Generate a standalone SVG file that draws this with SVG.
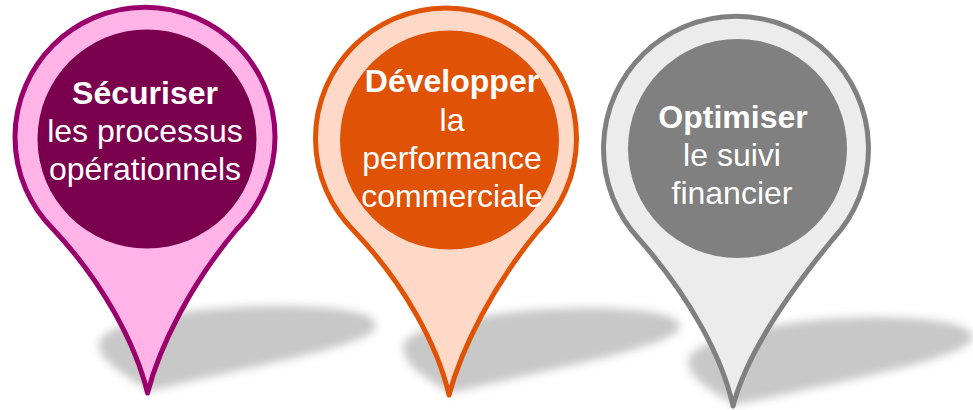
<svg xmlns="http://www.w3.org/2000/svg" width="973" height="410" viewBox="0 0 973 410">
<defs>
<filter id="blur" x="-10%" y="-30%" width="120%" height="160%"><feGaussianBlur stdDeviation="4"/></filter>
</defs>
<style>
.shadow{fill:#c8c8c8;filter:url(#blur)}
.pin{stroke-width:5;stroke-linejoin:round}
text{font-family:"Liberation Sans",Arial,sans-serif;font-size:32px;fill:#fff;text-anchor:middle}
.b{font-weight:bold}
</style>
<rect width="973" height="410" fill="#fff"/>
<g id="shadows">
<path class="shadow" d="M99,345C98,322 190,306 280,306C335,306 376,312 376,325C376,345 270,362 150,391C125,375 100,362 99,345Z"/>
<path class="shadow" d="M403,347C402,326 500,308 590,308C640,308 680,314 680,326C680,345 570,365 450,393C425,378 404,365 403,347Z"/>
<path class="shadow" d="M688,362C687,340 780,318 870,317C925,317 973,323 973,337C973,356 860,378 735,405C710,390 689,378 688,362Z"/>
</g>
<g id="pin1">
<path class="pin" fill="#ffb3e6" stroke="#99006b" d="M147.500,393C136,345 103,282 53,229A130 130 0 1 1 237,229C192,282 160,345 147.500,393Z"/>
<circle cx="147" cy="139" r="109.500" fill="#7a004e"/>
<text class="b" x="145" y="104">Sécuriser</text>
<text x="145" y="142">les processus</text>
<text x="145" y="180">opérationnels</text>
</g>
<g id="pin2">
<path class="pin" fill="#ffd9c7" stroke="#e05206" d="M449,395C438,347 405,284 354,231A130.500 130.500 0 1 1 538,231C494,284 462,347 449,395Z"/>
<circle cx="449.500" cy="140" r="109.500" fill="#e05206"/>
<text class="b" x="452" y="92">Développer</text>
<text x="452" y="131">la</text>
<text x="452" y="169">performance</text>
<text x="452" y="207">commerciale</text>
</g>
<g id="pin3">
<path class="pin" fill="#ececec" stroke="#808080" d="M733,406C722,356 689,296 639,239A132.500 132.500 0 1 1 833,239C786,296 746,356 733,406Z"/>
<circle cx="737.500" cy="148.500" r="109.500" fill="#808080"/>
<text class="b" x="733" y="128">Optimiser</text>
<text x="732" y="166">le suivi</text>
<text x="732" y="204">financier</text>
</g>
</svg>
